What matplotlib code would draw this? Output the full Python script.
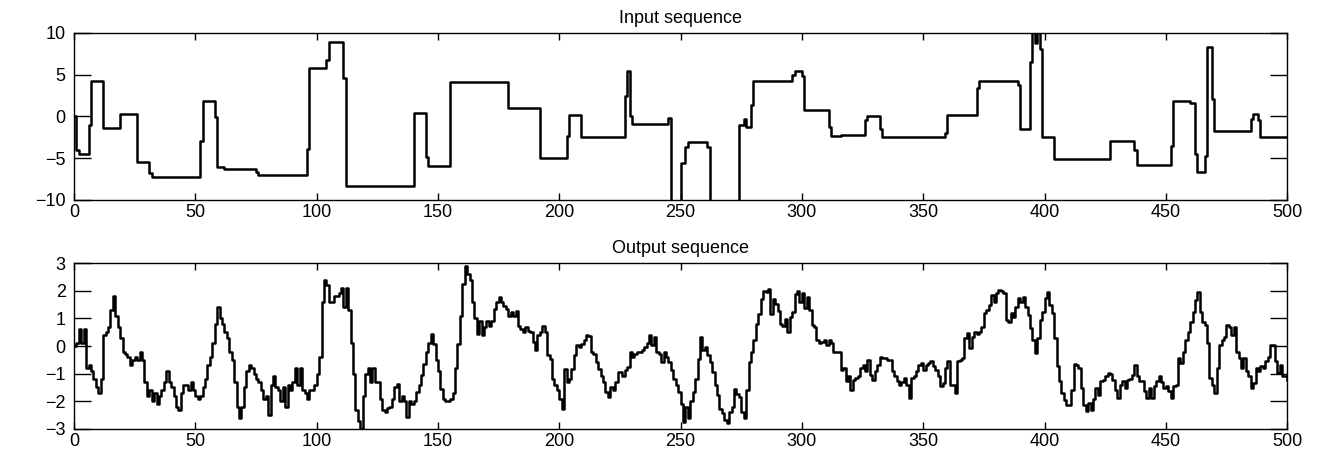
import numpy as np
import matplotlib
matplotlib.use("Agg")
import matplotlib.pyplot as plt

# ---------------- data ----------------
# Input sequence: piecewise-constant levels (start sample, level)
in_start = [0, 1, 2, 6, 7, 12, 19, 26, 31, 32, 52, 53, 58, 59, 62, 75, 76, 96, 97,
            104, 105, 111, 112, 140, 145, 146, 155, 179, 192, 203, 204, 209, 227,
            228, 229, 230, 245, 246, 250, 252, 253, 261, 262, 274, 276, 277, 279,
            280, 296, 297, 300, 301, 311, 312, 316, 326, 327, 332, 333, 359, 360,
            372, 373, 389, 390, 394, 395, 396, 397, 398, 399, 404, 427, 437, 438,
            452, 453, 460, 462, 463, 466, 467, 469, 470, 485, 486, 488, 489]
in_level = [0.0, -4.0, -4.5, -1.0, 4.3, -1.4, 0.3, -5.4, -6.8, -7.3, -2.9, 1.9, -0.1,
            -6.1, -6.3, -6.6, -7.0, -3.9, 5.8, 6.8, 8.9, 4.6, -8.3, 0.4, -4.8, -5.9,
            4.1, 1.0, -5.0, -2.3, 0.2, -2.4, 2.4, 5.5, 0.0, -0.9, -0.2, -10.5, -5.6,
            -3.6, -3.0, -3.6, -10.5, -1.0, -0.3, -1.3, 1.4, 4.2, 5.0, 5.5, 4.8, 0.8,
            -1.2, -2.3, -2.2, -0.4, 0.0, -1.5, -2.5, -2.0, 0.2, 3.4, 4.3, 3.8, -1.5,
            6.5, 10.5, 8.8, 10.5, 8.1, -2.4, -5.1, -2.9, -4.0, -5.8, -3.5, 1.9, 1.6,
            -4.5, -6.6, -4.7, 8.3, 2.1, -1.7, -0.3, 0.3, -0.4, -2.5]
n_samples = 501

# Output sequence: one value per sample 0..500
out_v = [
    0.0, 0.1, 0.6, 0.1, 0.6, -0.8, -0.7, -0.9, -1.2, -1.5,
    -1.7, -1.2, 0.4, 0.5, 0.7, 1.3, 1.8, 1.1, 0.7, 0.3,
    -0.2, -0.3, -0.4, -0.7, -0.5, -0.4, -0.5, -0.2, -0.5, -1.3,
    -1.8, -1.6, -2.0, -1.7, -2.1, -1.8, -1.6, -1.3, -0.9, -1.3,
    -1.5, -1.8, -2.2, -2.3, -1.7, -1.4, -1.4, -1.6, -1.3, -1.6,
    -1.8, -1.9, -1.8, -1.5, -1.2, -0.7, -0.4, 0.1, 0.8, 1.4,
    1.0, 0.8, 0.5, 0.3, -0.2, -0.5, -1.3, -2.2, -2.6, -2.2,
    -1.5, -0.9, -0.7, -0.8, -1.0, -1.2, -1.3, -1.6, -1.9, -1.8,
    -2.5, -1.4, -1.1, -1.5, -1.6, -2.0, -1.5, -2.2, -1.4, -1.6,
    -1.3, -0.8, -1.4, -0.8, -1.6, -1.7, -1.9, -1.6, -1.6, -1.4,
    -1.0, -0.4, 1.6, 2.4, 2.2, 1.6, 1.6, 1.8, 1.8, 1.9,
    2.1, 1.4, 2.1, 1.3, 0.1, -1.0, -2.3, -2.7, -3.0, -1.8,
    -1.0, -0.8, -1.3, -0.8, -1.3, -1.3, -1.9, -2.3, -2.4, -2.25,
    -2.2, -1.9, -1.5, -1.36, -2.0, -1.8, -2.0, -2.56, -2.0, -2.1,
    -2.0, -1.65, -1.4, -1.05, -0.64, -0.2, 0.1, 0.44, 0.08, -0.5,
    -0.9, -1.54, -1.9, -2.0, -2.0, -1.9, -1.7, -0.8, 0.08, 1.1,
    2.24, 2.9, 2.6, 2.4, 1.58, 1.0, 0.44, 0.92, 0.38, 0.68,
    0.92, 0.74, 0.9, 1.34, 1.58, 1.76, 1.6, 1.46, 1.34, 1.1,
    1.22, 1.1, 1.28, 0.74, 0.6, 0.5, 0.68, 0.55, 0.5, 0.14,
    -0.16, 0.38, 0.5, 0.74, 0.5, -0.34, -0.46, -1.18, -1.4, -1.6,
    -1.9, -2.26, -0.82, -1.3, -1.18, -0.82, -0.34, 0.02, -0.05, 0.08,
    0.2, 0.4, 0.35, -0.2, -0.3, -0.58, -0.82, -1.1, -1.3, -1.65,
    -1.84, -1.48, -1.6, -1.3, -0.94, -0.94, -1.1, -0.88, -0.76, -0.22,
    -0.4, -0.3, -0.22, -0.22, -0.16, -0.04, 0.1, 0.38, 0.02, 0.32,
    -0.22, -0.28, -0.58, -0.22, -0.4, -0.58, -0.88, -1.18, -1.4, -1.65,
    -2.08, -2.74, -2.2, -2.62, -2.0, -1.65, -1.18, -0.46, 0.32, -0.16,
    -0.04, -0.34, -0.58, -0.94, -1.42, -1.78, -2.26, -2.44, -2.68, -2.8,
    -2.38, -2.2, -1.54, -1.72, -1.84, -2.38, -2.62, -1.6, -0.58, -0.22,
    0.2, 0.8, 1.16, 1.7, 2.0, 1.94, 2.06, 1.16, 1.7, 1.52,
    1.28, 0.8, 0.74, 0.98, 0.5, 1.04, 1.22, 1.88, 2.0, 1.6,
    1.9, 1.36, 1.78, 1.3, 0.76, 0.7, 0.22, 0.1, 0.15, 0.22,
    0.04, 0.2, 0.1, -0.2, -0.2, -0.2, -0.86, -0.8, -1.28, -1.1,
    -1.58, -1.22, -1.16, -1.1, -0.8, -0.68, -0.92, -0.5, -1.04, -1.22,
    -0.9, -0.68, -0.38, -0.44, -0.44, -0.5, -0.5, -0.92, -1.1, -1.28,
    -1.4, -1.3, -1.16, -1.4, -1.88, -1.16, -1.1, -0.92, -0.7, -0.62,
    -0.86, -0.68, -0.6, -0.56, -0.74, -0.86, -1.1, -1.46, -1.34, -0.8,
    -0.56, -1.4, -1.4, -1.7, -0.56, -0.5, -0.44, 0.28, 0.46, -0.08,
    0.34, 0.52, 0.45, 0.5, 0.7, 1.18, 1.3, 1.48, 1.84, 1.6,
    1.9, 2.02, 2.0, 1.9, 0.94, 0.88, 1.18, 1.06, 1.42, 1.72,
    1.6, 1.78, 1.42, 1.12, 0.64, 0.22, -0.26, 0.28, 0.94, 1.24,
    1.72, 1.96, 1.48, 1.18, 0.28, -0.74, -1.28, -1.7, -1.94, -2.12,
    -2.12, -1.58, -0.66, -0.7, -0.8, -1.52, -2.12, -2.36, -2.06, -2.3,
    -1.9, -1.52, -1.76, -1.28, -1.22, -1.1, -0.98, -1.0, -1.22, -1.58,
    -1.88, -1.4, -1.28, -1.52, -1.22, -1.2, -1.04, -0.68, -1.1, -1.28,
    -1.28, -1.64, -1.88, -1.52, -1.88, -1.46, -1.28, -1.1, -1.3, -1.52,
    -1.46, -1.64, -1.88, -1.46, -1.4, -0.44, -0.6, -0.2, 0.22, 0.52,
    0.88, 1.24, 1.66, 1.96, 1.24, 0.88, 0.76, 0.1, -1.16, -1.4,
    -1.7, -0.8, 0.04, 0.22, 0.34, 0.76, 0.7, 0.4, 0.7, -0.2,
    -0.44, -0.8, -0.44, -0.92, -1.1, -1.52, -1.34, -0.8, -0.92, -0.74,
    -0.8, -0.56, -0.38, 0.04, 0.04, -0.56, -0.98, -0.68, -1.1, -1.1,
    -1.22,
]

x_ticks = [0, 50, 100, 150, 200, 250, 300, 350, 400, 450, 500]
in_yticks = [-10, -5, 0, 5, 10]
out_yticks = [-3, -2, -1, 0, 1, 2, 3]
titles = ["Input sequence", "Output sequence"]

# ---------------- build series ----------------
t = np.arange(n_samples)
durations = np.diff(in_start + [n_samples])
in_v = np.repeat(in_level, durations)

plt.rcParams['font.family'] = ['Liberation Sans', 'DejaVu Sans']

fig = plt.figure(figsize=(13.2, 4.53), dpi=100)
ax1 = fig.add_axes([0.0561, 0.5585, 0.919, 0.3687])
ax2 = fig.add_axes([0.0561, 0.053, 0.919, 0.3664])

for ax, y, yt, lim, title in [(ax1, in_v, in_yticks, (-10, 10), titles[0]),
                              (ax2, np.array(out_v), out_yticks, (-3, 3), titles[1])]:
    ax.step(t, y, where='post', color='black', lw=1.8)
    ax.set_xlim(0, 500)
    ax.set_ylim(*lim)
    ax.set_xticks(x_ticks)
    ax.set_yticks(yt)
    ax.tick_params(axis='both', direction='in', top=True, right=True,
                   labelsize=13, colors='black', width=1.0)
    ax.tick_params(axis='x', length=5, pad=3)
    ax.tick_params(axis='y', length=12, pad=6)
    for s in ax.spines.values():
        s.set_linewidth(1.0)
        s.set_color('black')
    ax.set_title(title, fontsize=13, pad=7)

fig.savefig("out.png", dpi=100, facecolor='white')
